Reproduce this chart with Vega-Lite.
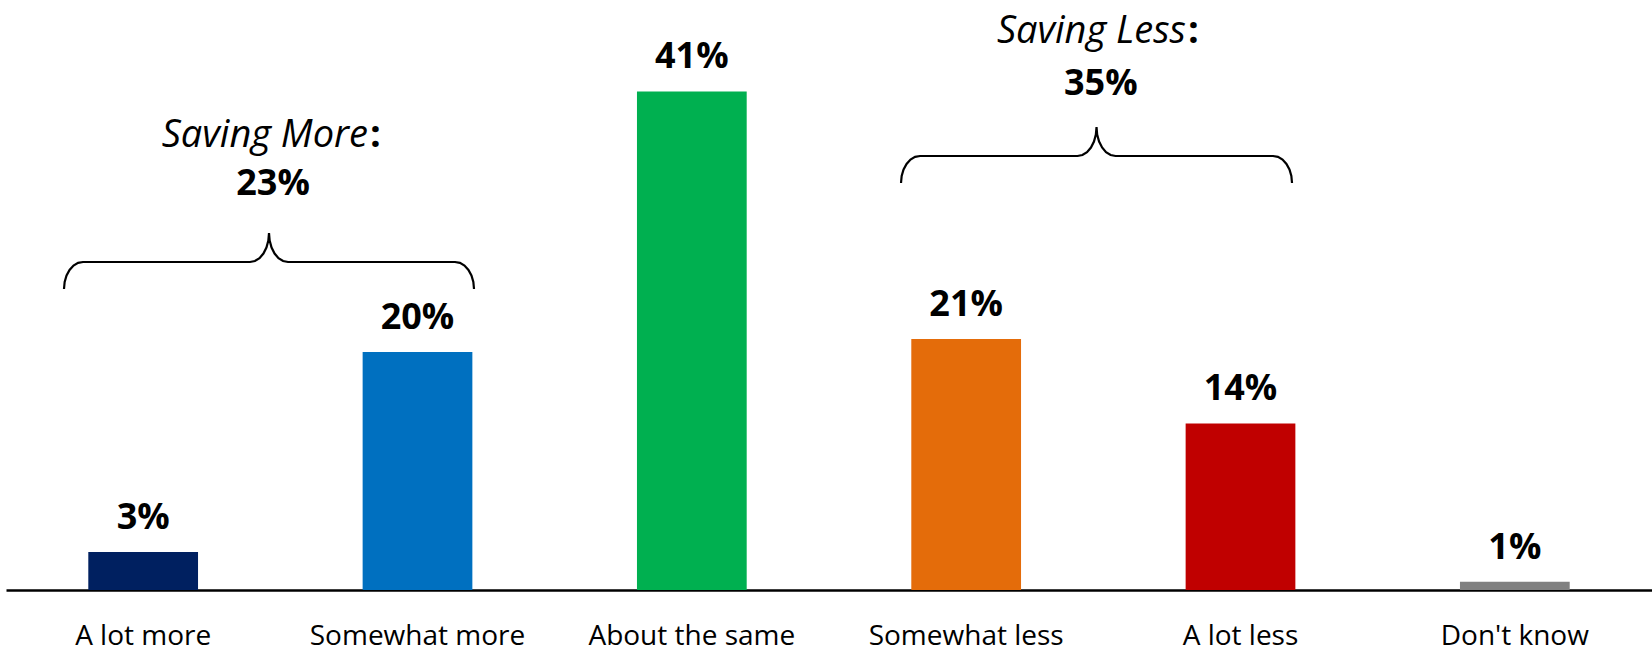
{
  "$schema": "https://vega.github.io/schema/vega-lite/v6.json",
  "width": 1646,
  "height": 590,
  "autosize": {"type": "none"},
  "padding": {"left": 6, "top": 0, "right": 0, "bottom": 66},
  "background": "white",
  "config": {"view": {"stroke": null}, "font": "Open Sans"},
  "datasets": {
    "bars": [
      {"response": "A lot more", "pct": 3.2, "label": "3%"},
      {"response": "Somewhat more", "pct": 20.0, "label": "20%"},
      {"response": "About the same", "pct": 41.9, "label": "41%"},
      {"response": "Somewhat less", "pct": 21.1, "label": "21%"},
      {"response": "A lot less", "pct": 14.0, "label": "14%"},
      {"response": "Don't know", "pct": 0.7, "label": "1%"}
    ],
    "braces": [
      {"brace": "more", "i": 1, "bx": 0.2114, "by": 25.294},
      {"brace": "more", "i": 2, "bx": 0.2138, "by": 25.882},
      {"brace": "more", "i": 3, "bx": 0.2207, "by": 26.429},
      {"brace": "more", "i": 4, "bx": 0.2317, "by": 26.898},
      {"brace": "more", "i": 5, "bx": 0.2461, "by": 27.259},
      {"brace": "more", "i": 6, "bx": 0.2628, "by": 27.486},
      {"brace": "more", "i": 7, "bx": 0.2807, "by": 27.563},
      {"brace": "more", "i": 8, "bx": 0.8894, "by": 27.563},
      {"brace": "more", "i": 9, "bx": 0.9074, "by": 27.646},
      {"brace": "more", "i": 10, "bx": 0.9241, "by": 27.890},
      {"brace": "more", "i": 11, "bx": 0.9384, "by": 28.276},
      {"brace": "more", "i": 12, "bx": 0.9494, "by": 28.782},
      {"brace": "more", "i": 13, "bx": 0.9563, "by": 29.369},
      {"brace": "more", "i": 14, "bx": 0.9587, "by": 30.0},
      {"brace": "more", "i": 15, "bx": 0.9611, "by": 29.369},
      {"brace": "more", "i": 16, "bx": 0.9680, "by": 28.782},
      {"brace": "more", "i": 17, "bx": 0.9790, "by": 28.276},
      {"brace": "more", "i": 18, "bx": 0.9933, "by": 27.890},
      {"brace": "more", "i": 19, "bx": 1.0100, "by": 27.646},
      {"brace": "more", "i": 20, "bx": 1.0280, "by": 27.563},
      {"brace": "more", "i": 21, "bx": 1.6367, "by": 27.563},
      {"brace": "more", "i": 22, "bx": 1.6547, "by": 27.486},
      {"brace": "more", "i": 23, "bx": 1.6713, "by": 27.259},
      {"brace": "more", "i": 24, "bx": 1.6857, "by": 26.898},
      {"brace": "more", "i": 25, "bx": 1.6967, "by": 26.429},
      {"brace": "more", "i": 26, "bx": 1.7036, "by": 25.882},
      {"brace": "more", "i": 27, "bx": 1.7060, "by": 25.294},
      {"brace": "less", "i": 1, "bx": 3.2625, "by": 34.202},
      {"brace": "less", "i": 2, "bx": 3.2649, "by": 34.790},
      {"brace": "less", "i": 3, "bx": 3.2718, "by": 35.337},
      {"brace": "less", "i": 4, "bx": 3.2828, "by": 35.806},
      {"brace": "less", "i": 5, "bx": 3.2971, "by": 36.167},
      {"brace": "less", "i": 6, "bx": 3.3138, "by": 36.394},
      {"brace": "less", "i": 7, "bx": 3.3318, "by": 36.471},
      {"brace": "less", "i": 8, "bx": 3.9059, "by": 36.471},
      {"brace": "less", "i": 9, "bx": 3.9238, "by": 36.554},
      {"brace": "less", "i": 10, "bx": 3.9405, "by": 36.798},
      {"brace": "less", "i": 11, "bx": 3.9549, "by": 37.184},
      {"brace": "less", "i": 12, "bx": 3.9659, "by": 37.690},
      {"brace": "less", "i": 13, "bx": 3.9728, "by": 38.277},
      {"brace": "less", "i": 14, "bx": 3.9752, "by": 38.908},
      {"brace": "less", "i": 15, "bx": 3.9775, "by": 38.277},
      {"brace": "less", "i": 16, "bx": 3.9845, "by": 37.690},
      {"brace": "less", "i": 17, "bx": 3.9955, "by": 37.184},
      {"brace": "less", "i": 18, "bx": 4.0098, "by": 36.798},
      {"brace": "less", "i": 19, "bx": 4.0265, "by": 36.554},
      {"brace": "less", "i": 20, "bx": 4.0444, "by": 36.471},
      {"brace": "less", "i": 21, "bx": 4.6186, "by": 36.471},
      {"brace": "less", "i": 22, "bx": 4.6365, "by": 36.394},
      {"brace": "less", "i": 23, "bx": 4.6532, "by": 36.167},
      {"brace": "less", "i": 24, "bx": 4.6675, "by": 35.806},
      {"brace": "less", "i": 25, "bx": 4.6785, "by": 35.337},
      {"brace": "less", "i": 26, "bx": 4.6854, "by": 34.790},
      {"brace": "less", "i": 27, "bx": 4.6878, "by": 34.202}
    ],
    "groups": [
      {"name": "Saving More", "total": "23%", "nameEnd": 1.3269, "nameY": 37.25, "center": 0.9733, "totalY": 33.19},
      {"name": "Saving Less", "total": "35%", "nameEnd": 4.3087, "nameY": 45.94, "center": 3.9908, "totalY": 41.6}
    ]
  },
  "layer": [
    {
      "data": {"name": "bars"},
      "encoding": {
        "x": {
          "field": "response",
          "type": "nominal",
          "sort": null,
          "scale": {"paddingInner": 0.6, "paddingOuter": 0.3},
          "axis": {
            "title": null,
            "labelAngle": 0,
            "ticks": false,
            "tickSize": 0,
            "domain": true,
            "domainColor": "#000000",
            "domainWidth": 2.5,
            "labelFont": "Open Sans",
            "labelFontSize": 28,
            "labelColor": "#000000",
            "labelPadding": 32,
            "labelLimit": 0,
            "labelOverlap": false,
            "grid": false
          }
        },
        "y": {
          "field": "pct",
          "type": "quantitative",
          "scale": {"domain": [0, 49.58], "nice": false, "zero": true},
          "axis": null
        }
      },
      "layer": [
        {
          "mark": {"type": "bar"},
          "encoding": {
            "color": {
              "field": "response",
              "type": "nominal",
              "scale": {
                "domain": ["A lot more", "Somewhat more", "About the same", "Somewhat less", "A lot less", "Don't know"],
                "range": ["#002060", "#0070C0", "#00B050", "#E46C0A", "#C00000", "#808080"]
              },
              "legend": null
            }
          }
        },
        {
          "mark": {"type": "text", "baseline": "alphabetic", "align": "center", "dy": -23, "fontSize": 36, "fontWeight": "bold", "font": "Open Sans", "color": "#000000"},
          "encoding": {"text": {"field": "label"}}
        }
      ]
    },
    {
      "data": {"name": "braces"},
      "mark": {"type": "line", "color": "#000000", "strokeWidth": 2.2, "interpolate": "linear"},
      "encoding": {
        "x": {"field": "bx", "type": "quantitative", "scale": {"domain": [0, 6], "nice": false, "zero": false}, "axis": null},
        "y": {"field": "by", "type": "quantitative", "scale": {"domain": [0, 49.58], "nice": false, "zero": true}, "axis": null},
        "detail": {"field": "brace"},
        "order": {"field": "i", "type": "quantitative"}
      }
    },
    {
      "data": {"name": "groups"},
      "encoding": {
        "y": {"type": "quantitative", "scale": {"domain": [0, 49.58], "nice": false, "zero": true}, "axis": null}
      },
      "layer": [
        {
          "mark": {"type": "text", "align": "right", "baseline": "alphabetic", "dx": -2, "fontSize": 38, "fontStyle": "italic", "font": "Open Sans", "color": "#000000"},
          "encoding": {
            "x": {"field": "nameEnd", "type": "quantitative", "scale": {"domain": [0, 6], "nice": false, "zero": false}, "axis": null},
            "y": {"field": "nameY", "type": "quantitative", "scale": {"domain": [0, 49.58], "nice": false, "zero": true}, "axis": null},
            "text": {"field": "name"}
          }
        },
        {
          "mark": {"type": "text", "align": "left", "baseline": "alphabetic", "text": ":", "fontSize": 38, "fontWeight": "bold", "font": "Open Sans", "color": "#000000"},
          "encoding": {
            "x": {"field": "nameEnd", "type": "quantitative", "scale": {"domain": [0, 6], "nice": false, "zero": false}, "axis": null},
            "y": {"field": "nameY", "type": "quantitative", "scale": {"domain": [0, 49.58], "nice": false, "zero": true}, "axis": null}
          }
        },
        {
          "mark": {"type": "text", "align": "center", "baseline": "alphabetic", "fontSize": 36, "fontWeight": "bold", "font": "Open Sans", "color": "#000000"},
          "encoding": {
            "x": {"field": "center", "type": "quantitative", "scale": {"domain": [0, 6], "nice": false, "zero": false}, "axis": null},
            "y": {"field": "totalY", "type": "quantitative", "scale": {"domain": [0, 49.58], "nice": false, "zero": true}, "axis": null},
            "text": {"field": "total"}
          }
        }
      ]
    }
  ],
  "resolve": {"scale": {"x": "independent"}}
}
